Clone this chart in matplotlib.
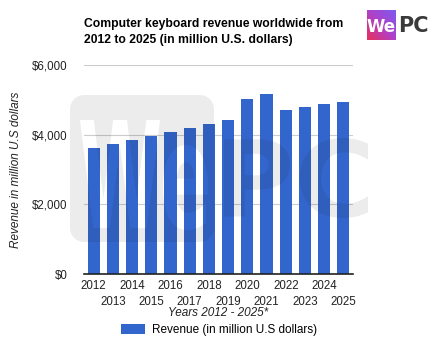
import numpy as np
import matplotlib
matplotlib.use("Agg")
import matplotlib.pyplot as plt
from matplotlib.textpath import TextPath
from matplotlib.font_manager import FontProperties
from matplotlib.patches import PathPatch
from matplotlib.path import Path
from matplotlib.transforms import Affine2D

# datos
years = [2012, 2013, 2014, 2015, 2016, 2017, 2018, 2019,
         2020, 2021, 2022, 2023, 2024, 2025]
revenue = [3620, 3730, 3845, 3960, 4075, 4190, 4305, 4420,
           5020, 5165, 4705, 4790, 4880, 4935]
yticks = [0, 2000, 4000, 6000]
ytick_labels = ["$0", "$2,000", "$4,000", "$6,000"]

W, H = 437, 339
plt.rcParams['font.family'] = ['Liberation Sans', 'DejaVu Sans']

fig = plt.figure(figsize=(W / 100, H / 100), dpi=100)
ax = fig.add_axes([84 / W, 1 - 274 / H, (353 - 84) / W, (274 - 65) / H])

x = np.arange(len(years))
bars = ax.bar(x, revenue, width=0.63, color='#3366cc', zorder=2,
              label='Revenue (in million U.S dollars)')

ax.set_xlim(-0.5, len(years) - 0.5)
ax.set_ylim(0, 6000)
ax.set_yticks(yticks)
ax.set_yticklabels(ytick_labels, fontsize=8.3, color='#222222')
# años pares arriba, impares abajo
ax.set_xticks(x[::2])
ax.set_xticklabels([str(y) for y in years[::2]], fontsize=8.3, color='#222222')
ax.set_xticks(x[1::2], minor=True)
ax.set_xticklabels([str(y) for y in years[1::2]], minor=True, fontsize=8.3, color='#222222')
ax.tick_params(which='both', length=0)
ax.tick_params(axis='y', pad=12)
ax.tick_params(axis='x', which='major', pad=4)
ax.tick_params(axis='x', which='minor', pad=16)
ax.grid(axis='y', color='#cccccc', lw=0.8, zorder=0)
for s in ['top', 'right', 'left']:
    ax.spines[s].set_visible(False)
ax.spines['bottom'].set_color('#222222')
ax.spines['bottom'].set_linewidth(1.2)
ax.spines['bottom'].set_zorder(3)

ax.set_ylabel('Revenue in million U.S dollars', fontsize=8.5, style='italic',
              color='#222222')
ax.yaxis.set_label_coords(-62 / (353 - 84), 0.5)
fig.text(218 / W, 1 - 313 / H, 'Years 2012 - 2025*', fontsize=8.5, style='italic',
         color='#222222', ha='center', va='center')

fig.text(84 / W, 1 - 32 / H,
         'Computer keyboard revenue worldwide from\n2012 to 2025 (in million U.S. dollars)',
         fontsize=8.7, weight='bold', ha='left', va='center', linespacing=1.5)

fig.legend(handles=[bars], loc='center', bbox_to_anchor=(219 / W, 1 - 330 / H),
           frameon=False, fontsize=8.5, handlelength=2.0, handleheight=1.0,
           handletextpad=0.6, borderpad=0)


# marca de agua (logo grande, gris translúcido)
def fit_path(path, x0, x1, y0, y1):
    e = path.get_extents()
    tr = Affine2D().translate(-e.x0, -e.y0).scale((x1 - x0) / e.width / W,
                                                  (y1 - y0) / e.height / H)
    tr = tr.translate(x0 / W, 1 - y1 / H)
    return tr.transform_path(path)


bold = FontProperties(family='DejaVu Sans', weight='bold')
we = fit_path(TextPath((0, 0), "We", prop=bold), 80, 208, 120, 230)
pc = fit_path(TextPath((0, 0), "PC", prop=bold), 224, 368, 138, 218)

# cuadrado redondeado con orientación contraria al contorno de las letras
r = 14
x0, x1, y0, y1 = 70, 214, 95, 242
th = np.linspace(0, np.pi / 2, 8)
pts = []
for cx, cy, a in [(x1 - r, y0 + r, 0), (x0 + r, y0 + r, np.pi / 2),
                  (x0 + r, y1 - r, np.pi), (x1 - r, y1 - r, 1.5 * np.pi)]:
    for t in th:
        pts.append((cx + r * np.cos(a + t), cy - r * np.sin(a + t)))
pts = np.array(pts)
pts = np.column_stack([pts[:, 0] / W, 1 - pts[:, 1] / H])


def area(p):
    return 0.5 * np.sum(p[:-1, 0] * p[1:, 1] - p[1:, 0] * p[:-1, 1])


glyph = we.to_polygons()[0]
if np.sign(area(pts)) == np.sign(area(glyph)):
    pts = pts[::-1]
sq = Path(np.vstack([pts, pts[:1]]), closed=True)
mark = Path.make_compound_path(sq, we)
for p in [mark, pc]:
    fig.patches.append(PathPatch(p, transform=fig.transFigure, facecolor='#000000',
                                 alpha=0.075, lw=0, zorder=5))

# logo
lax = fig.add_axes([367 / W, 1 - 40 / H, 29 / W, 30 / H])
g = np.add.outer(np.linspace(0, 1, 64), np.linspace(0, 1, 64)) / 2
cmap = matplotlib.colors.LinearSegmentedColormap.from_list('wepc', ['#e8305a', '#b040c8', '#7b5cf0'])
lax.imshow(g, cmap=cmap, aspect='auto', extent=[0, 1, 0, 1], origin='lower')
lax.text(0.5, 0.42, 'We', color='white', weight='bold', fontsize=12,
         ha='center', va='center', family='DejaVu Sans')
lax.set_axis_off()
fig.text(398 / W, 1 - 26 / H, 'PC', color='#3a3a3a', weight='bold', fontsize=15,
         ha='left', va='center', family='DejaVu Sans')

fig.savefig('out.png', dpi=100)
